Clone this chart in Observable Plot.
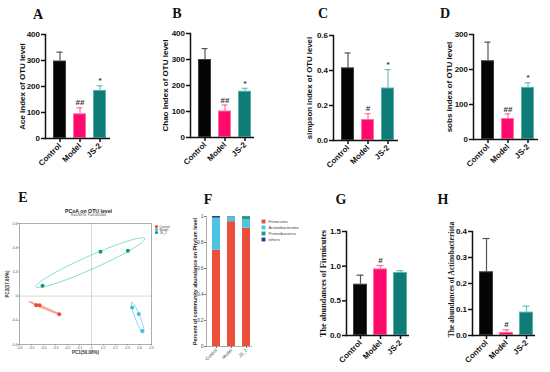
<!DOCTYPE html>
<html><head><meta charset="utf-8">
<script src="https://cdn.jsdelivr.net/npm/d3@7"></script>
<script src="https://cdn.jsdelivr.net/npm/@observablehq/plot@0.6"></script>
<style>
body{margin:0;background:#fff;}
#root{position:relative;width:550px;height:372px;overflow:hidden;background:#fff;}
.panel{position:absolute;}
.letter{position:absolute;font-family:"Liberation Serif","Times New Roman",serif;font-weight:bold;font-size:14px;transform:translate(-50%,-50%);line-height:1;color:#111;}
</style></head><body><div id="root"></div>
<script>
// ---------- data ----------
const groups = ["Control", "Model", "JS-2"];
const aceMean = [298, 95, 185];       const aceErr = [332, 118, 203];       const aceSig = ["", "##", "*"];
const chaoMean = [300, 102, 178];     const chaoErr = [342, 125, 189];      const chaoSig = ["", "##", "*"];
const simpsonMean = [0.415, 0.12, 0.30]; const simpsonErr = [0.50, 0.153, 0.405]; const simpsonSig = ["", "#", "*"];
const sobsMean = [225, 60, 149];      const sobsErr = [278, 73, 162];       const sobsSig = ["", "##", "*"];
const firmMean = [0.74, 0.96, 0.91];  const firmErr = [0.87, 1.01, 0.935];  const firmSig = ["", "#", ""];
const actMean = [0.245, 0.012, 0.09]; const actErr = [0.373, 0.022, 0.113]; const actSig = ["", "#", ""];

const aceTicks = [0, 100, 200, 300, 400];
const simpsonTicks = [0, 0.2, 0.4, 0.6];
const sobsTicks = [0, 100, 200, 300];
const firmTicks = [0, 0.5, 1.0, 1.5];
const actTicks = [0, 0.1, 0.2, 0.3, 0.4];

// PCoA
const pcoaGroups = ["Control", "Model", "JS_2"];
const pcoaGroup = ["Control","Control","Control","Model","Model","Model","JS_2","JS_2","JS_2"];
const pcoaPC1 = [-0.461, -0.433, -0.269, 0.339, 0.394, 0.422, -0.408, 0.075, 0.303];
const pcoaPC2 = [-0.075, -0.075, -0.150, -0.094, -0.148, -0.289, 0.086, 0.367, 0.375];
const pcoaXTicks = [-0.6,-0.5,-0.4,-0.3,-0.2,-0.1,0,0.1,0.2,0.3,0.4,0.5];
const pcoaYTicks = [-0.4,-0.2,0,0.2,0.4,0.6];
const pcoaTitle = "PCoA on OTU level";
const pcoaStat = "R=0.8370, P=0.005000";

// Phylum composition
const phylumSamples = ["Control", "Model", "JS_2"];
const phyla = ["Firmicutes", "Actinobacteriota", "Proteobacteria", "others"];
const firmicutesPct = [0.74, 0.96, 0.91];
const actinobacteriotaPct = [0.245, 0.037, 0.065];
const proteobacteriaPct = [0.003, 0.001, 0.022];
const othersPct = [0.012, 0.002, 0.003];
const phylumTicks = [0, 0.2, 0.4, 0.6, 0.8, 1];

// ---------- styles ----------
const barFill = ["#050505", "#ff0a6c", "#0f7b77"];
const barEdge = ["#3c3c3c", "#ff6fa3", "#58b3ad"];
const errColor = ["#555555", "#ff6fa3", "#6cc0ba"];
const pcoaPoint = ["#ee4a2c", "#3dbde6", "#0c9a78"];
const pcoaRing = ["#f07a66", "#5cc8ec", "#62d2c4"];
const phylumColors = ["#ea4f3c", "#4dc3e3", "#17a07d", "#2c3d8f"];
const SANS = "'Liberation Sans', Arial, sans-serif";
const SERIF = "'Liberation Serif', 'Times New Roman', serif";

const root = document.getElementById("root");
function place(node, left, top) {
  const d = document.createElement("div");
  d.className = "panel"; d.style.left = left + "px"; d.style.top = top + "px";
  d.appendChild(node); root.appendChild(d);
}
function letter(t, x, y) {
  const d = document.createElement("div");
  d.className = "letter"; d.textContent = t; d.style.left = x + "px"; d.style.top = y + "px";
  root.appendChild(d);
}

function barPanel(c) {
  const rows = groups.map((g, i) => ({g, v: c.mean[i], e: c.err[i], s: c.sig[i], fill: barFill[i], edge: barEdge[i], ec: errColor[i]}));
  return Plot.plot({
    width: c.width, height: c.height,
    marginLeft: c.mL, marginRight: c.mR, marginTop: c.mT, marginBottom: c.mB,
    style: {background: "transparent", fontFamily: SANS, fontSize: "8px", fontWeight: "bold", color: "#111", overflow: "visible"},
    color: {type: "identity"},
    x: {domain: groups, range: c.xRange, paddingInner: c.pad, paddingOuter: 0},
    y: {domain: c.yDomain},
    marks: [
      Plot.ruleX(rows, {x: "g", y1: "v", y2: "e", stroke: "ec", strokeWidth: 1.2}),
      Plot.tickY(rows, {x: "g", y: "e", stroke: "ec", strokeWidth: 1.2, insetLeft: 3.5, insetRight: 3.5}),
      Plot.barY(rows, {x: "g", y: "v", fill: "fill", stroke: "edge", strokeWidth: 1, inset: 0.5}),
      Plot.text(rows, {x: "g", y: "e", text: "s", dy: -5, fontSize: 8, fill: "#333"}),
      Plot.ruleY([0], {strokeWidth: 1.5}),
      Plot.frame({anchor: "left", strokeWidth: 1.5}),
      Plot.axisY({ticks: c.ticks, tickFormat: c.fmt, tickSize: 4, tickPadding: 1.5, strokeWidth: 1.5, label: null}),
      Plot.axisX({tickRotate: -45, tickSize: 4, tickPadding: 2, strokeWidth: 1.5, label: null}),
      Plot.text([c.label], {frameAnchor: "left", textAnchor: "middle", rotate: -90, dx: -c.off, dy: c.ldy || 0,
        fontFamily: c.serif ? SERIF : SANS, fontSize: c.lsize, fontWeight: "bold"})
    ]
  });
}

const f1 = d => d3.format(".1f")(d);
const f0 = d => String(d);

place(barPanel({width: 135, height: 185, mL: 45, mR: 25, mT: 34, mB: 47, xRange: [53, 107], pad: 0.333,
  yDomain: [0, 400], ticks: aceTicks, fmt: f0, mean: aceMean, err: aceErr, sig: aceSig,
  label: "Ace index of OTU level", off: 23, lsize: 8}), 0, 0);
place(barPanel({width: 135, height: 185, mL: 55, mR: 16, mT: 33, mB: 48, xRange: [63, 116], pad: 0.35,
  yDomain: [0, 400], ticks: aceTicks, fmt: f0, mean: chaoMean, err: chaoErr, sig: chaoSig,
  label: "Chao index of OTU level", off: 25, lsize: 8}), 135, 0);
place(barPanel({width: 135, height: 185, mL: 63, mR: 7, mT: 35, mB: 45, xRange: [71, 125], pad: 0.333,
  yDomain: [0, 0.6], ticks: simpsonTicks, fmt: f1, mean: simpsonMean, err: simpsonErr, sig: simpsonSig,
  label: "simpson index of OTU level", off: 24, lsize: 7.8}), 270, 0);
place(barPanel({width: 145, height: 185, mL: 68, mR: 12, mT: 34, mB: 46, xRange: [76, 130], pad: 0.333,
  yDomain: [0, 300], ticks: sobsTicks, fmt: f0, mean: sobsMean, err: sobsErr, sig: sobsSig,
  label: "sobs index of OTU level", off: 24, lsize: 8}), 405, 0);
place(barPanel({width: 100, height: 182, mL: 31, mR: 6, mT: 41, mB: 37, xRange: [37, 92], pad: 0.317,
  yDomain: [0, 1.5], ticks: firmTicks, fmt: f1, mean: firmMean, err: firmErr, sig: firmSig,
  label: "The abundances of Firmicutes", off: 23, lsize: 8.3, serif: true}), 315, 190);
place(barPanel({width: 125, height: 182, mL: 47, mR: 15, mT: 41, mB: 37, xRange: [54, 108], pad: 0.3,
  yDomain: [0, 0.4], ticks: actTicks, fmt: f1, mean: actMean, err: actErr, sig: actSig,
  label: "The abundances of Actinobacteriota", off: 21, lsize: 7.5, serif: true, ldy: -4}), 425, 190);

// ---------- PCoA ----------
const pts = pcoaPC1.map((x, i) => ({x, y: pcoaPC2[i], g: pcoaGroup[i]}));
function ellipsePoints(g, k) {
  const p = pts.filter(d => d.g === g);
  const xs = p.map(d => d.x), ys = p.map(d => d.y);
  const mx = d3.mean(xs), my = d3.mean(ys);
  const sxx = d3.variance(xs), syy = d3.variance(ys);
  const sxy = d3.sum(xs.map((x, i) => (x - mx) * (ys[i] - my))) / (xs.length - 1);
  const tr = sxx + syy, det = sxx * syy - sxy * sxy;
  const disc = Math.sqrt(Math.max(0, tr * tr / 4 - det));
  const l1 = tr / 2 + disc, l2 = Math.max(tr / 2 - disc, 0);
  const a = Math.atan2(l1 - sxx, sxy);
  const out = [];
  for (let j = 0; j <= 120; j++) {
    const t = 2 * Math.PI * j / 120;
    const u = k * Math.sqrt(l1) * Math.cos(t), v = k * Math.sqrt(l2) * Math.sin(t);
    out.push({g, x: mx + u * Math.cos(a) - v * Math.sin(a), y: my + u * Math.sin(a) + v * Math.cos(a)});
  }
  return out;
}
const ell = pcoaGroups.flatMap(g => ellipsePoints(g, 1.25));
const pcoaFmt = d => String(+d.toFixed(1));
const gi = g => pcoaGroups.indexOf(g);

place(Plot.plot({
  width: 185, height: 182, marginLeft: 19, marginRight: 34, marginTop: 33, marginBottom: 28,
  style: {background: "transparent", fontFamily: SANS, fontSize: "3.4px", color: "#555", overflow: "visible"},
  color: {type: "identity"},
  x: {domain: [-0.6, 0.5]}, y: {domain: [-0.4, 0.6]},
  marks: [
    Plot.ruleX([0], {stroke: "#bbb", strokeWidth: 0.6}),
    Plot.ruleY([0], {stroke: "#bbb", strokeWidth: 0.6}),
    Plot.line(ell, {x: "x", y: "y", z: "g", stroke: d => pcoaRing[gi(d.g)], strokeWidth: 0.8,
      fill: d => d.g === "Control" ? "#f7a090" : "none", fillOpacity: 0.6}),
    Plot.dot(pts, {x: "x", y: "y", fill: d => pcoaPoint[gi(d.g)], r: 2}),
    Plot.frame({stroke: "#999", strokeWidth: 0.8}),
    Plot.axisX({ticks: pcoaXTicks, tickFormat: pcoaFmt, tickSize: 1.5, tickPadding: 0.5, stroke: "#999", label: null}),
    Plot.axisY({ticks: pcoaYTicks, tickFormat: pcoaFmt, tickSize: 1.5, tickPadding: 0.5, stroke: "#999", label: null}),
    Plot.text([pcoaTitle], {frameAnchor: "top", dx: 3, dy: -14, fontSize: 5.2, fontWeight: "bold", fill: "#222"}),
    Plot.text([pcoaStat], {frameAnchor: "top", dx: 3, dy: -9.5, fontSize: 3.4, fill: "#444"}),
    Plot.text(["PC1(50.08%)"], {frameAnchor: "bottom", dx: 0, dy: 9, fontSize: 4.5, fontWeight: "bold", fill: "#333"}),
    Plot.text(["PC2(17.66%)"], {frameAnchor: "left", textAnchor: "middle", rotate: -90, dx: -12, fontSize: 4.5, fontWeight: "bold", fill: "#333"})
  ]
}), 0, 190);

place(Plot.plot({
  width: 30, height: 16, marginLeft: 3, marginRight: 0, marginTop: 0, marginBottom: 0,
  style: {background: "transparent", fontFamily: SANS, fontSize: "3.2px", color: "#444", overflow: "visible"},
  color: {type: "identity"},
  y: {type: "point", domain: pcoaGroups, range: [3, 13], axis: null},
  marks: [
    Plot.dot(pcoaGroups, {y: d => d, fill: d => pcoaPoint[gi(d)], r: 1.6, frameAnchor: "left"}),
    Plot.text(pcoaGroups, {y: d => d, text: d => d, frameAnchor: "left", dx: 3, textAnchor: "start"})
  ]
}), 153, 221);

// ---------- Phylum stacked bars ----------
const phylumValues = [firmicutesPct, actinobacteriotaPct, proteobacteriaPct, othersPct];
const phylumRows = phylumSamples.flatMap((s, i) => phyla.map((p, j) => ({s, p, v: phylumValues[j][i]})));

place(Plot.plot({
  width: 80, height: 182, marginLeft: 21, marginRight: 13, marginTop: 26, marginBottom: 26,
  style: {background: "transparent", fontFamily: SANS, fontSize: "4.5px", color: "#444", overflow: "visible"},
  x: {domain: phylumSamples, range: [26, 65], paddingInner: 0.48, paddingOuter: 0},
  y: {domain: [0, 1]},
  color: {domain: phyla, range: phylumColors},
  marks: [
    Plot.barY(phylumRows, {x: "s", y: "v", fill: "p"}),
    Plot.frame({anchor: "left", stroke: "#777", strokeWidth: 0.6}),
    Plot.ruleY([0], {stroke: "#777", strokeWidth: 0.6}),
    Plot.axisY({ticks: phylumTicks, tickFormat: d => String(d), tickSize: 2, tickPadding: 1, stroke: "#777", label: null}),
    Plot.axisX({tickRotate: -45, tickSize: 2, tickPadding: 1, stroke: "#777", label: null}),
    Plot.text(["Percent of community abundance on Phylum level"], {frameAnchor: "left", textAnchor: "middle", rotate: -90, dx: -11, fontSize: 5.3, fontWeight: "bold", fill: "#222"})
  ]
}), 185, 190);

place(Plot.plot({
  width: 70, height: 36, marginLeft: 5, marginRight: 0, marginTop: 0, marginBottom: 0,
  style: {background: "transparent", fontFamily: SANS, fontSize: "4.2px", color: "#444", overflow: "visible"},
  y: {type: "point", domain: phyla, range: [6, 30], axis: null},
  color: {domain: phyla, range: phylumColors},
  marks: [
    Plot.dot(phyla, {y: d => d, fill: d => d, symbol: "square", r: 2.2, frameAnchor: "left"}),
    Plot.text(phyla, {y: d => d, text: d => d, frameAnchor: "left", dx: 5, textAnchor: "start"})
  ]
}), 258, 212);

// ---------- panel letters ----------
letter("A", 38, 15); letter("B", 177, 14); letter("C", 323, 14); letter("D", 445, 14);
letter("E", 23, 198); letter("F", 208, 200); letter("G", 341, 200); letter("H", 443, 200);
</script>
</body></html>
